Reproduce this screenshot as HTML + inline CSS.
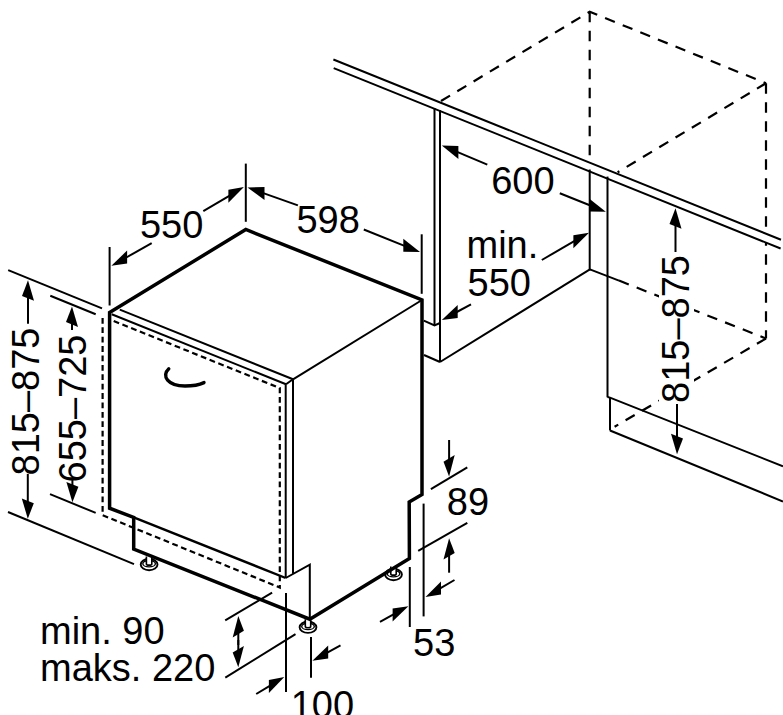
<!DOCTYPE html>
<html><head><meta charset="utf-8"><style>
html,body{margin:0;padding:0;background:#fff;width:783px;height:715px;overflow:hidden}
svg{display:block}
text{font-family:"Liberation Sans",sans-serif;fill:#000}
</style></head><body>
<svg width="783" height="715" viewBox="0 0 783 715">
<g stroke="#000" fill="none" stroke-linecap="butt">
<polyline points="441.0,101.0 589.7,11.8 766.0,83.2" stroke-width="2.2" fill="none" stroke-linejoin="miter" stroke-dasharray="10.5,8.5"/>
<line x1="589.7" y1="11.8" x2="589.7" y2="160.5" stroke-width="2.2" stroke-dasharray="10.5,8.5"/>
<line x1="766.0" y1="83.2" x2="766.0" y2="338.5" stroke-width="2.2" stroke-dasharray="10.5,8.5"/>
<line x1="766.0" y1="83.2" x2="617.6" y2="172.3" stroke-width="2.2" stroke-dasharray="10.5,8.5"/>
<polygon points="333.4,59.5 781,239.7 780.6,248.5 333.7,68.1" fill="#fff" stroke="none"/>
<line x1="333.4" y1="59.5" x2="781.0" y2="239.7" stroke-width="2.0"/>
<line x1="333.7" y1="68.1" x2="780.6" y2="248.5" stroke-width="2.0"/>
<line x1="434.5" y1="108.0" x2="434.5" y2="325.5" stroke-width="2.0"/>
<line x1="440.0" y1="110.3" x2="440.0" y2="362.0" stroke-width="2.0"/>
<polyline points="423.8,320.6 434.5,325.5 440.0,323.0" stroke-width="2.0" fill="none" stroke-linejoin="miter"/>
<line x1="424.0" y1="355.0" x2="440.0" y2="362.0" stroke-width="2.0"/>
<line x1="440.0" y1="362.0" x2="589.9" y2="269.4" stroke-width="2.0"/>
<line x1="589.7" y1="169.5" x2="589.7" y2="270.4" stroke-width="2.0"/>
<line x1="607.5" y1="176.6" x2="607.5" y2="397.3" stroke-width="2.0"/>
<line x1="589.9" y1="269.4" x2="619.0" y2="280.6" stroke-width="2.0"/>
<line x1="619.0" y1="280.6" x2="766.0" y2="338.5" stroke-width="2.2" stroke-dasharray="10.5,8.5"/>
<line x1="766.0" y1="338.5" x2="614.6" y2="426.7" stroke-width="2.2" stroke-dasharray="10.5,8.5"/>
<polyline points="607.5,397.0 610.0,397.6 783.0,466.3" stroke-width="2.0" fill="none" stroke-linejoin="miter"/>
<line x1="610.0" y1="397.6" x2="610.0" y2="430.5" stroke-width="2.0"/>
<line x1="610.0" y1="430.5" x2="783.0" y2="501.5" stroke-width="2.0"/>
<ellipse cx="149.1" cy="564.5" rx="8.4" ry="5.7" fill="#fff" stroke-width="1.9"/>
<ellipse cx="149.1" cy="563.7" rx="6.3" ry="3.2" fill="#fff" stroke-width="1.4"/>
<path d="M146.4,556.5 V563.9 A2.7,1.2 0 0 0 151.8,563.9 V556.5" fill="#fff" stroke-width="1.6"/>
<ellipse cx="308" cy="627.2" rx="8.4" ry="5.7" fill="#fff" stroke-width="1.9"/>
<ellipse cx="308" cy="626.4000000000001" rx="6.3" ry="3.2" fill="#fff" stroke-width="1.4"/>
<path d="M305.3,619.2 V626.6 A2.7,1.2 0 0 0 310.7,626.6 V619.2" fill="#fff" stroke-width="1.6"/>
<ellipse cx="393.5" cy="574.5" rx="8.4" ry="5.7" fill="#fff" stroke-width="1.9"/>
<ellipse cx="393.5" cy="573.7" rx="6.3" ry="3.2" fill="#fff" stroke-width="1.4"/>
<path d="M390.8,566.5 V573.9 A2.7,1.2 0 0 0 396.2,573.9 V566.5" fill="#fff" stroke-width="1.6"/>
<polyline points="109.6,312.5 245.8,229.5 422.0,300.0 422.0,494.6 409.2,501.9 409.4,558.5 309.8,619.2 133.7,549.1 133.7,517.4 109.6,508.2 109.6,312.5 245.8,229.5" stroke-width="3.5" fill="none" stroke-linejoin="miter"/>
<line x1="133.7" y1="517.4" x2="285.7" y2="578.0" stroke-width="2.4"/>
<line x1="422.0" y1="300.0" x2="293.0" y2="379.3" stroke-width="2.0"/>
<line x1="119.8" y1="309.6" x2="293.0" y2="379.3" stroke-width="2.0"/>
<line x1="111.7" y1="314.2" x2="286.0" y2="384.3" stroke-width="2.0"/>
<polyline points="286.0,384.3 293.0,379.3" stroke-width="2.0" fill="none" stroke-linejoin="miter"/>
<line x1="293.0" y1="379.3" x2="293.0" y2="573.8" stroke-width="2.0"/>
<line x1="285.7" y1="384.3" x2="285.7" y2="578.0" stroke-width="2.0"/>
<polyline points="285.7,578.0 309.8,564.6 309.8,619.2" stroke-width="2.0" fill="none" stroke-linejoin="miter"/>
<polyline points="113.7,321.0 279.8,388.1 279.8,587.5 102.6,515.2 102.6,316.0" stroke-width="2.2" fill="none" stroke-linejoin="miter" stroke-dasharray="5.8,3.6"/>
<path d="M168.8,368.8 C161,376 168,386 185,386 C195,386 200,384.5 204,382.6" fill="none" stroke-width="3.4" stroke-linecap="round"/>
<line x1="109.6" y1="247.0" x2="109.6" y2="305.5" stroke-width="2.0"/>
<line x1="245.8" y1="163.6" x2="245.8" y2="221.8" stroke-width="2.0"/>
<line x1="151.7" y1="243.2" x2="125.4" y2="258.0" stroke-width="2.0"/>
<polygon points="111.4,265.8 127.1,263.5 127.1,250.5" fill="#000" stroke="none"/>
<line x1="203.3" y1="211.2" x2="230.1" y2="195.3" stroke-width="2.0"/>
<polygon points="243.9,187.1 228.4,202.8 228.4,189.8" fill="#000" stroke="none"/>
<line x1="297.9" y1="205.4" x2="262.6" y2="192.9" stroke-width="2.0"/>
<polygon points="247.5,187.5 264.5,200.0 264.5,187.0" fill="#000" stroke="none"/>
<line x1="363.8" y1="229.5" x2="405.1" y2="246.1" stroke-width="2.0"/>
<polygon points="420.0,252.0 403.3,251.8 403.3,238.8" fill="#000" stroke="none"/>
<line x1="421.7" y1="234.3" x2="421.7" y2="293.8" stroke-width="2.0"/>
<line x1="487.3" y1="164.7" x2="456.5" y2="151.7" stroke-width="2.0"/>
<polygon points="441.8,145.5 458.4,159.0 458.4,146.0" fill="#000" stroke="none"/>
<line x1="559.8" y1="193.2" x2="591.0" y2="205.8" stroke-width="2.0"/>
<polygon points="605.8,211.8 589.1,211.6 589.1,198.6" fill="#000" stroke="none"/>
<line x1="541.8" y1="260.0" x2="575.1" y2="240.7" stroke-width="2.0"/>
<polygon points="589.0,232.7 573.4,248.2 573.4,235.2" fill="#000" stroke="none"/>
<line x1="471.0" y1="304.4" x2="455.9" y2="312.5" stroke-width="2.0"/>
<polygon points="441.8,320.0 457.7,318.0 457.7,305.0" fill="#000" stroke="none"/>
<line x1="675.5" y1="252.0" x2="675.5" y2="224.3" stroke-width="2.0"/>
<polygon points="675.5,208.3 681.5,228.7 669.5,223.9" fill="#000" stroke="none"/>
<line x1="677.0" y1="404.0" x2="677.0" y2="438.2" stroke-width="2.0"/>
<polygon points="677.0,454.2 683.0,438.6 671.0,433.8" fill="#000" stroke="none"/>
<line x1="8.2" y1="270.1" x2="102.0" y2="308.4" stroke-width="2.0"/>
<line x1="50.3" y1="295.7" x2="95.7" y2="314.2" stroke-width="2.0"/>
<line x1="28.0" y1="323.7" x2="28.0" y2="296.3" stroke-width="2.0"/>
<polygon points="28.0,280.3 34.0,300.7 22.0,295.9" fill="#000" stroke="none"/>
<line x1="27.8" y1="474.0" x2="27.8" y2="502.8" stroke-width="2.0"/>
<polygon points="27.8,518.8 33.8,503.2 21.8,498.4" fill="#000" stroke="none"/>
<line x1="72.0" y1="330.1" x2="72.0" y2="322.5" stroke-width="2.0"/>
<polygon points="72.0,306.5 78.0,326.9 66.0,322.1" fill="#000" stroke="none"/>
<line x1="72.4" y1="478.0" x2="72.4" y2="486.3" stroke-width="2.0"/>
<polygon points="72.4,502.3 78.4,486.7 66.4,481.9" fill="#000" stroke="none"/>
<line x1="8.0" y1="512.0" x2="134.0" y2="564.2" stroke-width="2.0"/>
<line x1="50.0" y1="494.1" x2="95.7" y2="512.9" stroke-width="2.0"/>
<line x1="225.2" y1="620.3" x2="272.1" y2="592.6" stroke-width="2.0"/>
<line x1="225.3" y1="677.7" x2="295.5" y2="634.1" stroke-width="2.0"/>
<line x1="238.3" y1="645.0" x2="238.3" y2="632.1" stroke-width="2.0"/>
<polygon points="238.3,616.1 243.9,630.8 232.7,637.4" fill="#000" stroke="none"/>
<line x1="238.3" y1="640.0" x2="238.3" y2="651.3" stroke-width="2.0"/>
<polygon points="238.3,667.3 243.9,646.0 232.7,652.6" fill="#000" stroke="none"/>
<line x1="286.0" y1="593.0" x2="286.0" y2="692.0" stroke-width="2.0"/>
<line x1="311.0" y1="637.0" x2="311.0" y2="677.7" stroke-width="2.0"/>
<line x1="340.5" y1="645.4" x2="326.4" y2="653.1" stroke-width="2.0"/>
<polygon points="312.4,660.8 328.2,658.6 328.2,645.6" fill="#000" stroke="none"/>
<line x1="256.2" y1="694.0" x2="270.6" y2="685.3" stroke-width="2.0"/>
<polygon points="284.3,677.1 268.9,692.9 268.9,679.9" fill="#000" stroke="none"/>
<line x1="449.1" y1="440.0" x2="449.1" y2="460.4" stroke-width="2.0"/>
<polygon points="449.1,476.4 454.7,455.1 443.5,461.7" fill="#000" stroke="none"/>
<line x1="430.9" y1="489.1" x2="467.3" y2="467.3" stroke-width="2.0"/>
<line x1="418.2" y1="550.9" x2="467.3" y2="522.9" stroke-width="2.0"/>
<line x1="449.1" y1="572.7" x2="449.1" y2="554.2" stroke-width="2.0"/>
<polygon points="449.1,538.2 454.7,552.9 443.5,559.5" fill="#000" stroke="none"/>
<line x1="409.8" y1="567.0" x2="409.8" y2="627.0" stroke-width="2.0"/>
<line x1="423.6" y1="503.6" x2="423.6" y2="616.4" stroke-width="2.0"/>
<line x1="454.5" y1="580.0" x2="439.3" y2="588.9" stroke-width="2.0"/>
<polygon points="425.5,597.0 441.0,594.4 441.0,581.4" fill="#000" stroke="none"/>
<line x1="380.0" y1="621.8" x2="394.4" y2="613.9" stroke-width="2.0"/>
<polygon points="408.4,606.2 392.6,621.4 392.6,608.4" fill="#000" stroke="none"/>
</g>
<g>
<text x="139.9" y="238.3" font-size="38">550</text>
<text x="296.4" y="232.7" font-size="38">598</text>
<text x="491.2" y="194.2" font-size="38">600</text>
<text x="466.5" y="258.0" font-size="38">min.</text>
<text x="467.5" y="295.5" font-size="38">550</text>
<rect x="659" y="254" width="35" height="150" fill="#fff"/>
<text x="0" y="0" font-size="38" transform="translate(688.9,403.0) rotate(-90)">815–875</text>
<text x="0" y="0" font-size="38" transform="translate(39.2,475.5) rotate(-90)">815–875</text>
<text x="0" y="0" font-size="38" transform="translate(85.7,482.5) rotate(-90)">655–725</text>
<text x="40.0" y="643.6" font-size="38">min. 90</text>
<text x="40.0" y="681.0" font-size="38">maks. 220</text>
<text x="290.7" y="718.3" font-size="38">100</text>
<text x="446.8" y="515.0" font-size="38">89</text>
<text x="413.0" y="655.5" font-size="38">53</text>
</g>
</svg>
</body></html>
